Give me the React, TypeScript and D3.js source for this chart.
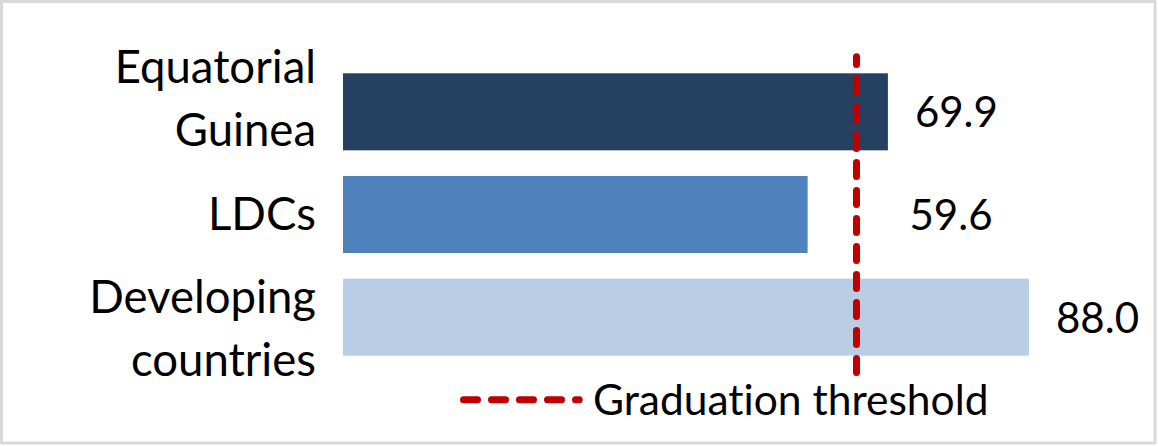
import React from "react";
import * as d3 from "d3";

const categories: string[] = ["Equatorial Guinea", "LDCs", "Developing countries"];
const categoryLines: string[][] = [["Equatorial", "Guinea"], ["LDCs"], ["Developing", "countries"]];
const values: number[] = [69.9, 59.6, 88.0];
const valueLabels: string[] = ["69.9", "59.6", "88.0"];
const barColors: string[] = ["#264061", "#4F81BD", "#B9CDE5"];
const threshold = 66;
const legendLabel = "Graduation threshold";

const W = 1158;
const H = 446;
const FONT = "Lato, 'Open Sans', sans-serif";

export default function App() {
  const x = d3.scaleLinear().domain([0, 88]).range([343, 1029]);
  const y = d3
    .scaleBand<string>()
    .domain(categories)
    .range([73.3, 355.7])
    .paddingInner(0.25)
    .paddingOuter(0);
  const labelY = d3.scalePoint<string>().domain(categories).range([99, 329]);
  const bw = y.bandwidth();
  const tx = x(threshold) - 1;

  return (
    <svg
      width={W}
      height={H}
      style={{ position: "absolute", left: 0, top: 0, background: "#fff", fontVariantLigatures: "none" }}
      fontFamily={FONT}
    >
      <rect x={1.5} y={1.5} width={W - 4.5} height={H - 4.5} fill="#fff" stroke="#D9D9D9" strokeWidth={3} />

      {categories.map((c, i) => (
        <rect key={c} x={x(0)} y={y(c)} width={x(values[i]) - x(0)} height={bw} fill={barColors[i]} />
      ))}

      {categories.map((c, i) => {
        const lines = categoryLines[i];
        const center = labelY(c) as number;
        const lh = 62.5;
        const first = center + 15.5 - ((lines.length - 1) * lh) / 2;
        return (
          <text key={c} textAnchor="end" fontSize={45.5} fill="#000">
            {lines.map((l, j) => (
              <tspan key={j} x={316} y={first + j * lh}>
                {l}
              </tspan>
            ))}
          </text>
        );
      })}

      {categories.map((c, i) => {
        const cy = (y(c) as number) + bw / 2;
        const lx = values[i] >= threshold ? x(values[i]) + 27 : x(threshold) + 52;
        return (
          <text key={c} x={lx} y={cy + 15.5} fontSize={42} fill="#000">
            {valueLabels[i]}
          </text>
        );
      })}

      <line
        x1={tx}
        x2={tx}
        y1={56.8}
        y2={372.5}
        stroke="#C00000"
        strokeWidth={7}
        strokeDasharray="14,14"
        strokeDashoffset={6.3}
        strokeLinecap="round"
      />

      <line
        x1={463.5}
        x2={579.2}
        y1={399.7}
        y2={399.7}
        stroke="#C00000"
        strokeWidth={7}
        strokeDasharray="14,14"
        strokeLinecap="round"
      />
      <text x={593} y={414.5} fontSize={42.5} fill="#000">
        {legendLabel}
      </text>
    </svg>
  );
}
